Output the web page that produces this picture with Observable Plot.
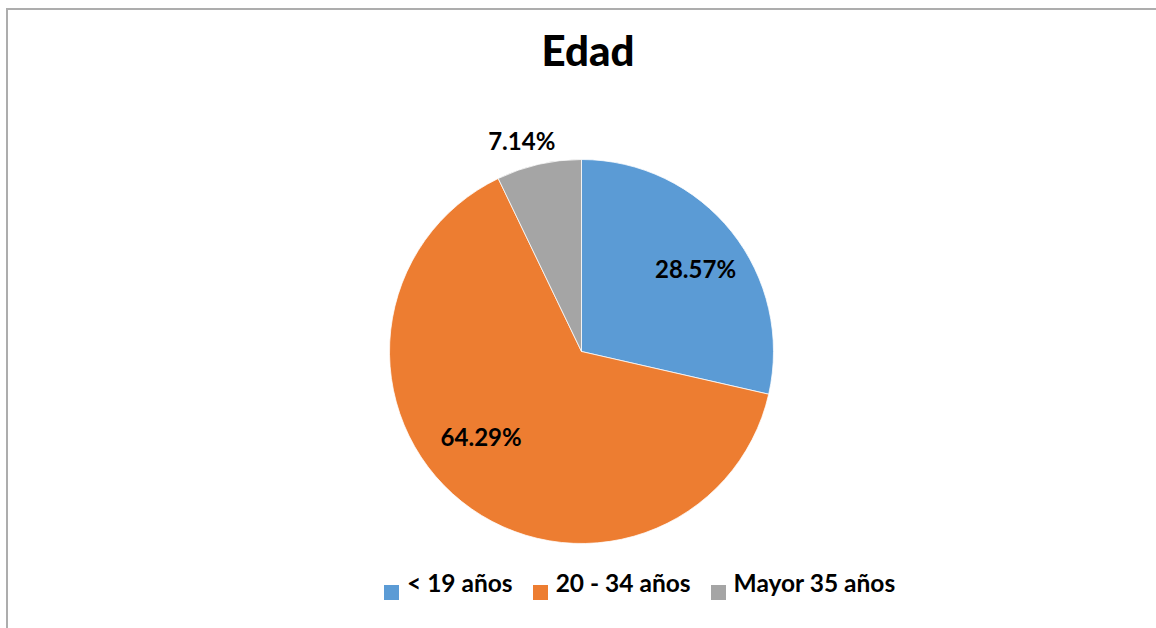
<!DOCTYPE html>
<html>
<head>
<meta charset="utf-8">
<script src="https://cdn.jsdelivr.net/npm/d3@7"></script>
<script src="https://cdn.jsdelivr.net/npm/@observablehq/plot@0.6"></script>
<style>
  html, body { margin: 0; padding: 0; background: #fff; }
  #wrap { position: relative; width: 1156px; height: 628px; overflow: hidden; font-family: Lato, "Open Sans", sans-serif; }
  #frame { position: absolute; left: 6px; top: 8px; width: 1200px; height: 700px; border-top: 2px solid #ADADAD; border-left: 2px solid #ADADAD; box-sizing: border-box; }
  #chart { position: absolute; left: 0; top: 0; }
  #title { position: absolute; left: 0; top: 29px; width: 1176px; text-align: center; font: 900 42px Lato, sans-serif; line-height: 1; color: #000; }
  #legend { position: absolute; left: 384px; top: 568px; }
  .lg-swatches { font: bold 24.5px Lato, sans-serif !important; color: #000; margin: 0 !important; }
  .lg-swatches-wrap { min-height: 0 !important; flex-wrap: nowrap !important; }
  .lg-swatch { margin-right: 20px !important; line-height: 1.2; }
  .lg-swatch > svg { margin-right: 8px !important; position: relative; top: 10px; }
</style>
</head>
<body>
<div id="wrap">
  <div id="frame"></div>
  <div id="chart"></div>
  <div id="title"></div>
  <div id="legend"></div>
</div>
<script>
// ---- data ----
const title = "Edad";
const categories = ["< 19 años", "20 - 34 años", "Mayor 35 años"];
const percentages = [28.57, 64.29, 7.14];
const colors = ["#5B9BD5", "#ED7D31", "#A5A5A5"];

// ---- layout ----
const cx = 581.5, cy = 351.5, R = 192;
// label placement: angular shift (deg) from slice middle and radius as fraction of R
const labelLayout = [
  { turn: 2.9, r: 0.728 },
  { turn: 11, r: 0.69 },
  { turn: -3.2, r: 1.135 }
];

const data = categories.map((c, i) => ({ category: c, value: percentages[i] }));
const color = Plot.scale({ color: { type: "ordinal", domain: categories, range: colors } });
const arcs = d3.pie().sort(null).value(d => d.value)(data);

const labels = arcs.map((p, i) => {
  const a = (p.startAngle + p.endAngle) / 2 + labelLayout[i].turn * Math.PI / 180;
  const r = labelLayout[i].r;
  return { x: r * Math.sin(a), y: r * Math.cos(a), text: d3.format(".2f")(p.data.value) + "%" };
});

function pieMark(index, scales, values, dimensions, context) {
  const x0 = scales.x(0), y0 = scales.y(0), rad = scales.x(1) - scales.x(0);
  const arc = d3.arc().innerRadius(0).outerRadius(rad);
  const g = d3.create("svg:g").attr("transform", `translate(${x0},${y0})`);
  g.selectAll("path").data(arcs).join("path")
    .attr("d", arc)
    .attr("fill", d => color.apply(d.data.category))
    .attr("stroke", "#fff")
    .attr("stroke-width", 0.75)
    .attr("stroke-linejoin", "round");
  return g.node();
}

const plot = Plot.plot({
  width: 1156,
  height: 628,
  margin: 0,
  style: { background: "transparent", color: "#000", fontFamily: "Lato, sans-serif" },
  x: { domain: [-1, 1], range: [cx - R, cx + R], axis: null },
  y: { domain: [-1, 1], range: [cy + R, cy - R], axis: null },
  marks: [
    pieMark,
    Plot.text(labels, { x: "x", y: "y", text: "text", fontSize: 24, fontWeight: "bold", fontFamily: "Lato, sans-serif", fill: "#000" })
  ]
});
document.getElementById("chart").appendChild(plot);
document.getElementById("title").textContent = title;

const legend = Plot.legend({
  color: { type: "ordinal", domain: categories, range: colors },
  legend: "swatches",
  swatchSize: 15,
  className: "lg"
});
document.getElementById("legend").appendChild(legend);
</script>
</body>
</html>
